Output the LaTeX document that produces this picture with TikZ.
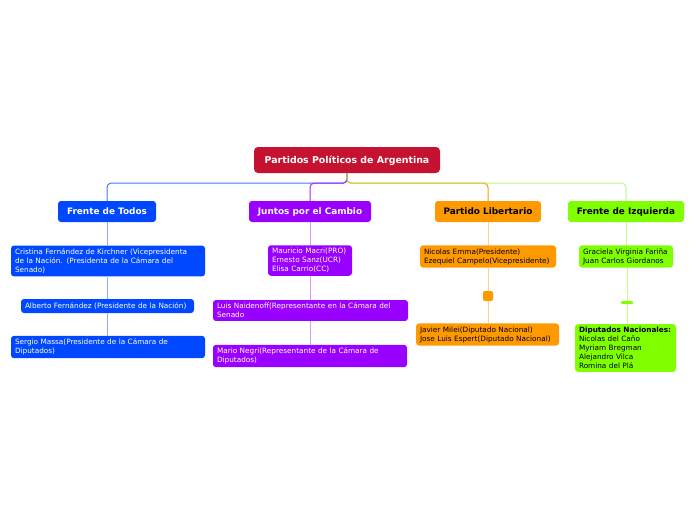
\documentclass[tikz,border=0pt]{standalone}
\usepackage{fontspec}
\setmainfont{DejaVu Sans}
\usetikzlibrary{positioning}
\definecolor{rootred}{RGB}{196,18,48}
\definecolor{ftblue}{RGB}{0,72,255}
\definecolor{jcpurple}{RGB}{153,0,255}
\definecolor{plorange}{RGB}{255,153,0}
\definecolor{figreen}{RGB}{128,255,0}
\definecolor{limeline}{RGB}{150,245,80}

\begin{document}
\begin{tikzpicture}[x=1pt, y=-1pt,
  rootbox/.style={fill=rootred, text=white, rounded corners=4pt, minimum width=186pt,
                  minimum height=26pt, text depth=0.2ex, font=\bfseries\fontsize{9.4}{11}\selectfont},
  party/.style={rounded corners=3pt, minimum height=21pt, inner sep=2pt, text depth=0.2ex,
                font=\bfseries\fontsize{8.9}{10}\selectfont},
  item/.style={rounded corners=3pt, align=left, text width=#1, inner xsep=4pt, inner ysep=3pt,
               font=\fontsize{7.3}{9}\selectfont},
  br/.style={line width=1pt, rounded corners=4pt},
  sub/.style={line width=0.8pt}
]
\useasboundingbox (0,0) rectangle (696,520);
\node[rootbox] (root) at (347,160) {Partidos Políticos de Argentina};

\node[party, fill=ftblue, text=white, minimum width=98pt] (fdt) at (107,211.5) {Frente de Todos};
\node[party, fill=jcpurple, text=white, minimum width=122pt] (jpc) at (310,211.5) {Juntos por el Cambio};
\node[party, fill=plorange, minimum width=106pt] (pl) at (488,211.5) {Partido Libertario};
\node[party, fill=figreen, minimum width=116pt] (fi) at (626,211.5) {Frente de Izquierda};

\draw[br, ftblue!75] (root.south) -- ++(0,10) -| (fdt.north);
\draw[br, jcpurple!85] (root.south) -- ++(0,10) -| (jpc.north);
\draw[br, plorange] (root.south) -- ++(0,10) -| (pl.north);
\draw[br, limeline, draw opacity=0.7] (root.south) -- ++(0,10) -| (fi.north);

\node[item=186pt, fill=ftblue, text=white] (cfk) at (108,261)
  {Cristina Fernández de Kirchner (Vicepresidenta\\de la Nación. (Presidenta de la Cámara del\\Senado)};
\node[item=165pt, fill=ftblue, text=white, inner ysep=0pt, minimum height=14pt] (af) at (107.5,306)
  {Alberto Fernández (Presidente de la Nación)};
\node[item=186pt, fill=ftblue, text=white] (sm) at (108,347)
  {Sergio Massa(Presidente de la Cámara de\\Diputados)};

\node[item=76pt, fill=jcpurple, text=white] (mm) at (310,260.5)
  {Mauricio Macri(PRO)\\Ernesto Sanz(UCR)\\Elisa Carrio(CC)};
\node[item=187pt, fill=jcpurple, text=white] (ln) at (310.5,310.5)
  {Luis Naidenoff(Representante en la Cámara del\\Senado};
\node[item=186pt, fill=jcpurple, text=white] (mn) at (310,356)
  {Mario Negri(Representante de la Cámara de\\Diputados)};

\node[item=128pt, fill=plorange] (ne) at (488,256.5)
  {Nicolas Emma(Presidente)\\Ezequiel Campelo(Vicepresidente)};
\node[fill=plorange, rounded corners=2pt, minimum size=10pt, inner sep=0pt] (sq) at (488,296) {};
\node[item=135pt, fill=plorange] (jm) at (487.5,334.5)
  {Javier Milei(Diputado Nacional)\\Jose Luis Espert(Diputado Nacional)};

\node[item=86pt, fill=figreen] (gv) at (626,256.5)
  {Graciela Virginia Fariña\\Juan Carlos Giordanos};
\node[fill=figreen, rounded corners=1pt, minimum width=12pt, minimum height=3pt, inner sep=0pt] (bar) at (627,302.5) {};
\node[item=93pt, fill=figreen] (dn) at (625.5,348)
  {\textbf{Diputados Nacionales:}\\Nicolas del Caño\\Myriam Bregman\\Alejandro Vilca\\Romina del Plá};

\draw[sub, ftblue!45] (fdt.south) -- (fdt.south |- cfk.north);
\draw[sub, ftblue!45] (cfk.south -| af.north) -- (af.north);
\draw[sub, ftblue!45] (af.south) -- (af.south |- sm.north);
\draw[sub, jcpurple!40] (jpc.south) -- (jpc.south |- mm.north);
\draw[sub, jcpurple!40] (mm.south) -- (mm.south |- ln.north);
\draw[sub, jcpurple!40] (ln.south) -- (ln.south |- mn.north);
\draw[sub, plorange!45] (pl.south) -- (pl.south |- ne.north);
\draw[sub, plorange!45] (ne.south) -- (sq.north);
\draw[sub, plorange!45] (sq.south) -- (sq.south |- jm.north);
\draw[sub, figreen!50] (fi.south) -- (fi.south |- gv.north);
\draw[sub, figreen!50] (gv.south -| bar.north) -- (bar.north);
\draw[sub, figreen!50] (bar.south) -- (bar.south |- dn.north);
\end{tikzpicture}
\end{document}
